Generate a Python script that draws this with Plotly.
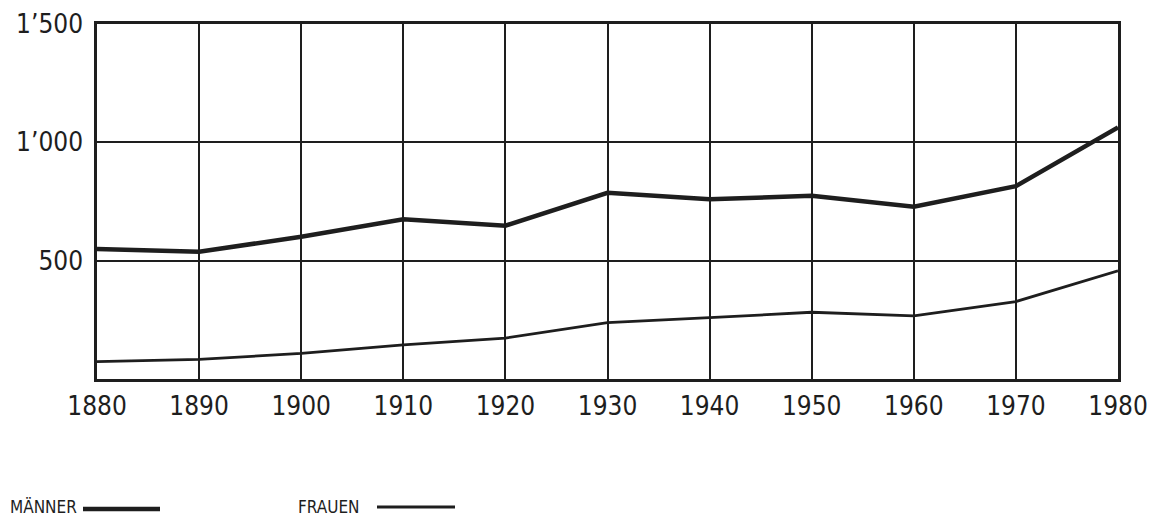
import plotly.graph_objects as go

years = [1880, 1890, 1900, 1910, 1920, 1930, 1940, 1950, 1960, 1970, 1980]
maenner = [549, 538, 601, 675, 648, 787, 759, 774, 728, 815, 1063]
frauen = [73, 83, 108, 144, 173, 238, 259, 282, 267, 327, 457]
y_ticks = [500, 1000, 1500]
y_labels = ["500", "1\u2019000", "1\u2019500"]

ink = "#1e1e1e"
font_family = "DejaVu Sans Condensed, DejaVu Sans, sans-serif"

# The page body has an 8px default margin; compensate so the plot lands where the original is.
OFF = 8
W, H = 1156 - OFF, 519 - OFF
L, T = 97 - OFF, 24 - OFF
R = W - (1118 - OFF)
B = H - (379 - OFF)
pw, ph = W - L - R, H - T - B


def px(x):
    """window x pixel -> paper x"""
    return (x - OFF - L) / pw


def py(y):
    """window y pixel -> paper y"""
    return (H - B - (y - OFF)) / ph


fig = go.Figure()
fig.add_trace(go.Scatter(x=years, y=maenner, mode="lines", name="MÄNNER",
                         line=dict(color=ink, width=4.5), showlegend=False))
fig.add_trace(go.Scatter(x=years, y=frauen, mode="lines", name="FRAUEN",
                         line=dict(color=ink, width=2.8), showlegend=False))

fig.update_layout(
    width=W, height=H,
    margin=dict(l=L, r=R, t=T, b=B, autoexpand=False),
    paper_bgcolor="white", plot_bgcolor="white",
    font=dict(family=font_family, color=ink),
)
fig.update_xaxes(range=[1880, 1980], tickvals=years, ticktext=[str(y) for y in years],
                 showgrid=True, gridcolor=ink, gridwidth=2,
                 showline=True, linecolor=ink, linewidth=2.5, mirror=True,
                 ticks="", tickfont=dict(size=26, family=font_family, color=ink),
                 ticklabelstandoff=2,
                 zeroline=False, automargin=False)
fig.update_yaxes(range=[0, 1500], tickvals=y_ticks, ticktext=y_labels,
                 showgrid=True, gridcolor=ink, gridwidth=2,
                 showline=True, linecolor=ink, linewidth=2.5, mirror=True,
                 ticks="", tickfont=dict(size=26, family=font_family, color=ink),
                 ticklabelstandoff=6,
                 zeroline=False, automargin=False)

# Legend drawn as text + line sample (text precedes the line, as in the original)
fig.add_annotation(x=px(9), y=py(507), xref="paper", yref="paper", xanchor="left", yanchor="middle",
                   text="MÄNNER", showarrow=False, borderpad=0,
                   font=dict(size=17, family=font_family, color=ink))
fig.add_shape(type="line", xref="paper", yref="paper",
              x0=px(83), x1=px(160), y0=py(509), y1=py(509),
              line=dict(color=ink, width=4.5))
fig.add_annotation(x=px(297), y=py(507), xref="paper", yref="paper", xanchor="left", yanchor="middle",
                   text="FRAUEN", showarrow=False, borderpad=0,
                   font=dict(size=17, family=font_family, color=ink))
fig.add_shape(type="line", xref="paper", yref="paper",
              x0=px(377), x1=px(455), y0=py(507), y1=py(507),
              line=dict(color=ink, width=2.8))

fig.write_html("out.html")
